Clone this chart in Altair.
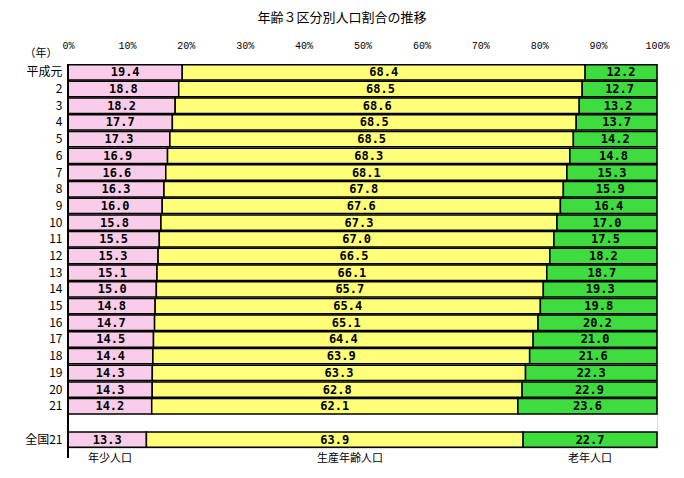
import altair as alt
import pandas as pd

title_text = "年齢３区分別人口割合の推移"
rows = ["平成元", "2", "3", "4", "5", "6", "7", "8", "9", "10", "11", "12", "13",
        "14", "15", "16", "17", "18", "19", "20", "21", "全国21"]
young = [19.4, 18.8, 18.2, 17.7, 17.3, 16.9, 16.6, 16.3, 16.0, 15.8, 15.5, 15.3, 15.1,
         15.0, 14.8, 14.7, 14.5, 14.4, 14.3, 14.3, 14.2, 13.3]
working = [68.4, 68.5, 68.6, 68.5, 68.5, 68.3, 68.1, 67.8, 67.6, 67.3, 67.0, 66.5, 66.1,
           65.7, 65.4, 65.1, 64.4, 63.9, 63.3, 62.8, 62.1, 63.9]
elderly = [12.2, 12.7, 13.2, 13.7, 14.2, 14.8, 15.3, 15.9, 16.4, 17.0, 17.5, 18.2, 18.7,
           19.3, 19.8, 20.2, 21.0, 21.6, 22.3, 22.9, 23.6, 22.7]
groups = ["年少人口", "生産年齢人口", "老年人口"]
colors = ["#f9cde9", "#ffff78", "#3fdc3f"]
ticks = [0, 10, 20, 30, 40, 50, 60, 70, 80, 90, 100]

domain_rows = rows[:-1] + [" "] + [rows[-1]]

records = []
for r, vals in zip(rows, zip(young, working, elderly)):
    total = sum(vals)
    start = 0.0
    for g, v in zip(groups, vals):
        end = start + v / total * 100
        records.append(dict(row=r, group=g, value=v, start=start, end=end,
                            mid=(start + end) / 2, label=f"{v:.1f}"))
        start = end
df = pd.DataFrame(records)

W, H = 589, 384
y_scale = alt.Scale(domain=domain_rows, paddingInner=0.08, paddingOuter=0.04)

y_enc = alt.Y("row:N", scale=y_scale,
              axis=alt.Axis(title=None, ticks=False, domain=False,
                            labelFont="Noto Sans CJK JP", labelFontSize=12,
                            labelColor="black", labelPadding=6))

x_scale = alt.Scale(domain=[0, 100], nice=False, zero=True)

bars = alt.Chart(df).mark_bar(stroke="black", strokeWidth=1.5).encode(
    x=alt.X("start:Q", scale=x_scale,
            axis=alt.Axis(orient="top", values=ticks, labelExpr="datum.value + '%'",
                          grid=False, ticks=False, domain=False, title=None,
                          labelFont="Liberation Mono", labelFontSize=10,
                          labelColor="black", labelPadding=14, labelFlush=False)),
    x2="end:Q",
    y=y_enc,
    fill=alt.Fill("group:N", scale=alt.Scale(domain=groups, range=colors), legend=None),
)

labels = alt.Chart(df).mark_text(font="DejaVu Sans Mono", fontWeight="bold",
                                 fontSize=12, color="black").encode(
    x=alt.X("mid:Q", scale=x_scale),
    y=alt.Y("row:N", scale=y_scale),
    text="label:N",
)

title = alt.Chart(pd.DataFrame({"t": [title_text]})).mark_text(
    font="Noto Sans CJK JP", fontSize=13, color="black").encode(
    text="t:N", x=alt.value(274), y=alt.value(-46))

nen = alt.Chart(pd.DataFrame({"t": ["（年）"]})).mark_text(
    font="Noto Sans CJK JP", fontSize=11, color="black").encode(
    text="t:N", x=alt.value(-27), y=alt.value(-10))

leg_layers = []
for g, xv in zip(groups, [42, 282, 522]):
    leg_layers.append(
        alt.Chart(pd.DataFrame({"t": [g]})).mark_text(
            font="Noto Sans CJK JP", fontSize=11, color="black").encode(
            text="t:N", x=alt.value(xv), y=alt.value(395)))

left_rule = alt.Chart(pd.DataFrame({"a": [0]})).mark_rule(color="black", strokeWidth=2).encode(
    x=alt.value(0), y=alt.value(0), y2=alt.value(394))

chart = alt.layer(bars, labels, left_rule, title, nen, *leg_layers).properties(
    width=W, height=H,
    autosize=alt.AutoSizeParams(type="none"),
    padding={"left": 60, "top": 56, "right": 19, "bottom": 22},
).configure_view(stroke=None).configure(background="white")

chart.save("out.html", embed_options={"renderer": "svg", "actions": False})
